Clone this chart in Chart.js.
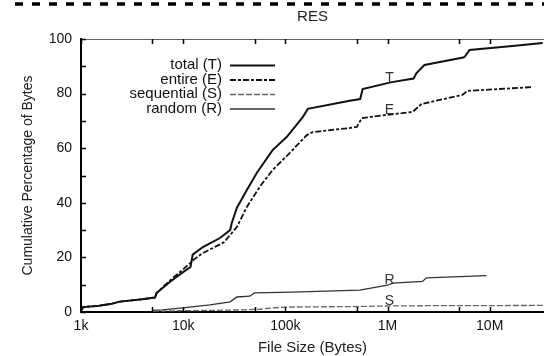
<!DOCTYPE html>
<html>
<head>
<meta charset="utf-8">
<script src="https://cdn.jsdelivr.net/npm/chart.js@4.4.1/dist/chart.umd.min.js"></script>
<style>
  html, body { margin: 0; padding: 0; background: #fff; }
  #box { width: 544px; height: 356px; }
</style>
</head>
<body>
<div id="box"><canvas id="resChart"></canvas></div>
<script>
// file size (bytes) / cumulative % of bytes, one pair of arrays per curve
const totalSize = [1000, 1050, 1500, 2000, 2400, 3800, 5300, 5500, 7400, 9900, 11800, 12400, 15600, 22900, 28800, 29900, 33500, 42000, 52500, 75000, 103000, 148000, 166000, 427000, 540000, 571000, 1100000, 1800000, 1920000, 2300000, 5500000, 5700000, 6350000, 16700000, 33000000];
const totalPct  = [0.5, 1.8, 2.3, 3.0, 3.8, 4.6, 5.3, 7.0, 11.0, 14.5, 16.5, 21.0, 23.8, 27.1, 30.0, 32.6, 38.1, 44.7, 50.9, 59.3, 64.1, 71.4, 74.4, 77.4, 78.0, 81.7, 84.2, 85.5, 87.5, 90.5, 93.2, 93.5, 96.0, 97.4, 98.5];

const entireSize = [1000, 1050, 1500, 2000, 2400, 3800, 5300, 5500, 7400, 9900, 12200, 12500, 15600, 25000, 33500, 42000, 56000, 75000, 110000, 162000, 185000, 427000, 500000, 560000, 980000, 1760000, 2150000, 5400000, 6070000, 26200000];
const entirePct  = [0.5, 1.8, 2.3, 3.0, 3.8, 4.6, 5.3, 7.0, 11.5, 15.5, 18.5, 19.0, 21.6, 25.5, 31.1, 38.5, 45.8, 52.0, 58.2, 64.8, 65.9, 67.4, 67.8, 71.0, 72.2, 73.3, 76.2, 79.5, 81.0, 82.4];

const seqSize = [5100, 5200, 9900, 20000, 40000, 56000, 75000, 100000, 500000, 1000000, 2400000, 34000000];
const seqPct  = [0.0, 0.3, 0.5, 0.6, 0.8, 1.0, 1.5, 1.8, 2.0, 2.2, 2.3, 2.4];

const randSize = [5100, 5150, 6300, 9900, 18300, 28800, 33500, 44800, 50000, 118000, 534000, 1000000, 1120000, 2200000, 2400000, 9300000];
const randPct  = [0.0, 0.6, 0.8, 1.5, 2.6, 3.7, 5.5, 5.8, 7.0, 7.3, 8.0, 9.8, 10.6, 11.2, 12.5, 13.3];

const seriesNames = ['total (T)', 'entire (E)', 'sequential (S)', 'random (R)'];
const curveTags = ['T', 'E', 'S', 'R'];

const xLabelVals = [1e3, 1e4, 1e5, 1e6, 1e7];
const xLabelText = ['1k', '10k', '100k', '1M', '10M'];
const xMarkVals = [1e3, 5e3, 1e4, 5e4, 1e5, 5e5, 1e6, 5e6, 1e7];
const yLabelVals = [0, 20, 40, 60, 80, 100];
const yMarkVals = [0, 10, 20, 30, 40, 50, 60, 70, 80, 90, 100];

const FONT = "'Liberation Sans', Arial, sans-serif";

const pts = (xs, ys) => xs.map((x, i) => ({ x: x, y: ys[i] }));

// interpolate a curve on the log x axis
function valueAt(data, x) {
  const lx = Math.log10(x);
  for (let i = 1; i < data.length; i++) {
    const a = data[i - 1], b = data[i];
    if (x <= b.x) {
      const la = Math.log10(a.x), lb = Math.log10(b.x);
      return a.y + (b.y - a.y) * (lx - la) / (lb - la);
    }
  }
  return data[data.length - 1].y;
}

const frame = {
  id: 'frame',
  afterDatasetsDraw(chart) {
    const { ctx, chartArea: a, scales: { x, y } } = chart;
    ctx.save();
    // dashed rule above the plot
    ctx.strokeStyle = '#000';
    ctx.lineWidth = 3.5;
    ctx.setLineDash([8, 9]);
    ctx.beginPath();
    ctx.moveTo(15, 4);
    ctx.lineTo(544, 4);
    ctx.stroke();
    ctx.setLineDash([]);

    // thin top border
    ctx.strokeStyle = '#666';
    ctx.lineWidth = 1;
    ctx.beginPath();
    ctx.moveTo(a.left, a.top + 0.5);
    ctx.lineTo(a.right, a.top + 0.5);
    ctx.stroke();

    // inward tick marks
    ctx.strokeStyle = '#000';
    ctx.lineWidth = 1.5;
    ctx.beginPath();
    xMarkVals.forEach(v => {
      const px = Math.round(x.getPixelForValue(v)) + 0.5;
      ctx.moveTo(px, a.bottom); ctx.lineTo(px, a.bottom - 5);
      ctx.moveTo(px, a.top); ctx.lineTo(px, a.top + 5);
    });
    yMarkVals.forEach(v => {
      const py = Math.round(y.getPixelForValue(v)) + 0.5;
      ctx.moveTo(a.left, py); ctx.lineTo(a.left + 5, py);
    });
    ctx.stroke();

    // letters on the curves at 1M
    ctx.font = '14px ' + FONT;
    ctx.fillStyle = '#333';
    ctx.textAlign = 'center';
    ctx.textBaseline = 'bottom';
    chart.data.datasets.forEach((ds, i) => {
      const px = x.getPixelForValue(1e6) + 2;
      const py = y.getPixelForValue(valueAt(ds.data, 1e6)) + 2;
      ctx.fillText(curveTags[i], px, py);
    });

    // key, text right-aligned with a line sample after it
    ctx.font = '15px ' + FONT;
    ctx.textAlign = 'right';
    ctx.textBaseline = 'middle';
    chart.data.datasets.forEach((ds, i) => {
      const ry = 65 + i * 14.5;
      ctx.fillStyle = '#111';
      ctx.fillText(ds.label, 222, ry);
      ctx.strokeStyle = ds.borderColor;
      ctx.lineWidth = ds.borderWidth;
      ctx.setLineDash(ds.borderDash || []);
      ctx.beginPath();
      ctx.moveTo(230, ry + 0.5);
      ctx.lineTo(275, ry + 0.5);
      ctx.stroke();
    });
    ctx.restore();
  }
};

new Chart(document.getElementById('resChart'), {
  type: 'line',
  data: {
    datasets: [
      { label: seriesNames[0], data: pts(totalSize, totalPct), borderColor: '#111', borderWidth: 2 },
      { label: seriesNames[1], data: pts(entireSize, entirePct), borderColor: '#111', borderWidth: 1.8, borderDash: [6, 2, 3, 2] },
      { label: seriesNames[2], data: pts(seqSize, seqPct), borderColor: '#666', borderWidth: 1.3, borderDash: [6, 2] },
      { label: seriesNames[3], data: pts(randSize, randPct), borderColor: '#333', borderWidth: 1.3 }
    ]
  },
  options: {
    responsive: true,
    maintainAspectRatio: false,
    animation: false,
    parsing: false,
    layout: { padding: 0 },
    elements: { point: { radius: 0 }, line: { tension: 0, fill: false } },
    plugins: {
      legend: { display: false },
      tooltip: { enabled: false },
      title: {
        display: true,
        text: 'RES',
        fullSize: false,
        color: '#222',
        font: { family: FONT, size: 15, weight: 'normal' },
        padding: { top: 8, bottom: 13 }
      }
    },
    scales: {
      x: {
        type: 'logarithmic',
        min: 1000,
        max: 3.4e7,
        afterBuildTicks: s => { s.ticks = xLabelVals.map(v => ({ value: v })); },
        afterFit: s => { s.height = 44; },
        grid: { display: false, drawTicks: false },
        border: { display: true, color: '#000', width: 2 },
        ticks: {
          color: '#111',
          padding: 6,
          maxRotation: 0,
          autoSkip: false,
          font: { family: FONT, size: 14 },
          callback: v => xLabelText[xLabelVals.indexOf(v)] ?? ''
        },
        title: {
          display: true,
          text: 'File Size (Bytes)',
          color: '#222',
          font: { family: FONT, size: 15 },
          padding: { top: 0, bottom: -1 }
        }
      },
      y: {
        min: 0,
        max: 100,
        afterBuildTicks: s => { s.ticks = yLabelVals.map(v => ({ value: v })); },
        afterFit: s => { s.width = 81; },
        grid: { display: false, drawTicks: false },
        border: { display: true, color: '#000', width: 2 },
        ticks: {
          color: '#111',
          padding: 9,
          font: { family: FONT, size: 14 }
        },
        title: {
          display: true,
          text: 'Cumulative Percentage of Bytes',
          color: '#222',
          font: { family: FONT, size: 14 },
          padding: { top: 20, bottom: 0 }
        }
      }
    }
  },
  plugins: [frame]
});
</script>
</body>
</html>
